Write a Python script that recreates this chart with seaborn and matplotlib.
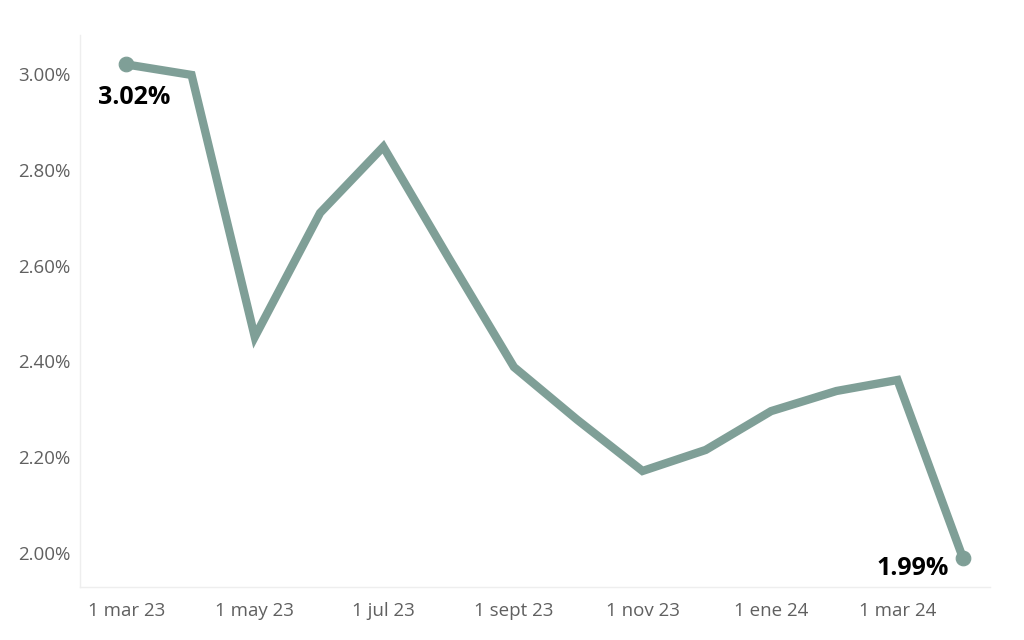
import matplotlib
matplotlib.use("Agg")
import matplotlib.pyplot as plt
import matplotlib.dates as mdates
import seaborn as sns
import pandas as pd
import numpy as np

dates = ["2023-03-01", "2023-04-01", "2023-05-01", "2023-06-01", "2023-07-01",
         "2023-08-01", "2023-09-01", "2023-10-01", "2023-11-01", "2023-12-01",
         "2024-01-01", "2024-02-01", "2024-03-01", "2024-04-01"]
values = [3.02, 2.998, 2.451, 2.71, 2.848, 2.616, 2.388, 2.278, 2.171, 2.215,
          2.296, 2.338, 2.361, 1.99]
tick_dates = ["2023-03-01", "2023-05-01", "2023-07-01", "2023-09-01",
              "2023-11-01", "2024-01-01", "2024-03-01"]
tick_labels = ["1 mar 23", "1 may 23", "1 jul 23", "1 sept 23",
               "1 nov 23", "1 ene 24", "1 mar 24"]
y_ticks = [2.0, 2.2, 2.4, 2.6, 2.8, 3.0]

df = pd.DataFrame({"date": pd.to_datetime(dates), "value": values})

sns.set_theme(style="white")
plt.rcParams["font.family"] = ["Open Sans", "DejaVu Sans"]

fig = plt.figure(figsize=(10.24, 6.4), dpi=100)
ax = fig.add_axes([0.078, 0.083, 0.889, 0.862])

color = "#7f9f97"
sns.lineplot(data=df, x="date", y="value", ax=ax, color=color, linewidth=6,
             solid_joinstyle="miter", solid_capstyle="round")
ends = df.iloc[[0, -1]]
sns.scatterplot(data=ends, x="date", y="value", ax=ax, color=color, s=110,
                edgecolor=color, zorder=5)

ax.set_xlim(pd.Timestamp("2023-02-07"), pd.Timestamp("2024-04-14"))
ax.set_ylim(1.929, 3.081)

ax.set_yticks(y_ticks)
ax.set_yticklabels([f"{v:.2f}%" for v in y_ticks])
ax.set_xticks(pd.to_datetime(tick_dates))
ax.set_xticklabels(tick_labels)
ax.xaxis.set_minor_locator(mdates.MonthLocator())

ax.set_xlabel("")
ax.set_ylabel("")

for side in ["top", "right"]:
    ax.spines[side].set_visible(False)
for side in ["left", "bottom"]:
    ax.spines[side].set_color("#eeeeee")
    ax.spines[side].set_linewidth(1)

ax.tick_params(axis="both", which="both", colors="#e6e6e6", length=4, width=1,
               labelcolor="#606060", labelsize=13.5)
ax.tick_params(axis="x", which="major", pad=7)
ax.tick_params(axis="y", which="major", pad=3)
ax.tick_params(axis="x", which="minor", length=3)

ax.annotate(f"{values[0]:.2f}%", (df["date"].iloc[0], values[0]),
            xytext=(6, -24), textcoords="offset points", ha="center", va="center",
            fontsize=18, fontweight="bold", color="black")
ax.annotate(f"{values[-1]:.2f}%", (df["date"].iloc[-1], values[-1]),
            xytext=(-36, -8), textcoords="offset points", ha="center", va="center",
            fontsize=18, fontweight="bold", color="black")

fig.savefig("out.png", dpi=100, facecolor="white")
